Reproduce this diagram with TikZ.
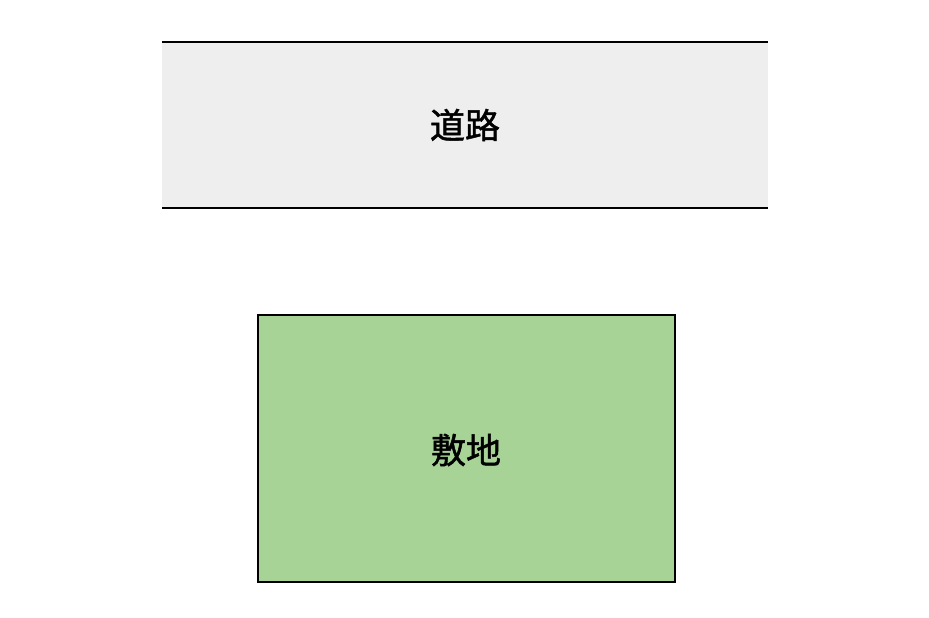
\documentclass[tikz,border=0pt]{standalone}
\usepackage{fontspec}
\newfontfamily\cjk{Noto Sans CJK JP}[RawFeature={embolden=1.4}]
\definecolor{roadgray}{HTML}{EEEEEE}
\definecolor{lotgreen}{HTML}{A7D397}
\tikzset{
  label text/.style={font=\cjk\fontsize{35}{40}\selectfont, text=black},
  area edge/.style={draw=black, line width=1.3pt},
}
\begin{document}
\begin{tikzpicture}[x=1pt, y=-1pt]
\useasboundingbox (0,0) rectangle (929,618);
% road band
\fill[roadgray] (162,42) rectangle (768,208);
\draw[area edge] (162,42) -- (768,42);
\draw[area edge] (162,208) -- (768,208);
\node[label text] (road) at (465,125) {道路};
% building lot
\draw[area edge, fill=lotgreen] (258,315) rectangle (675,582);
\node[label text] (lot) at (466,450) {敷地};
\end{tikzpicture}
\end{document}
